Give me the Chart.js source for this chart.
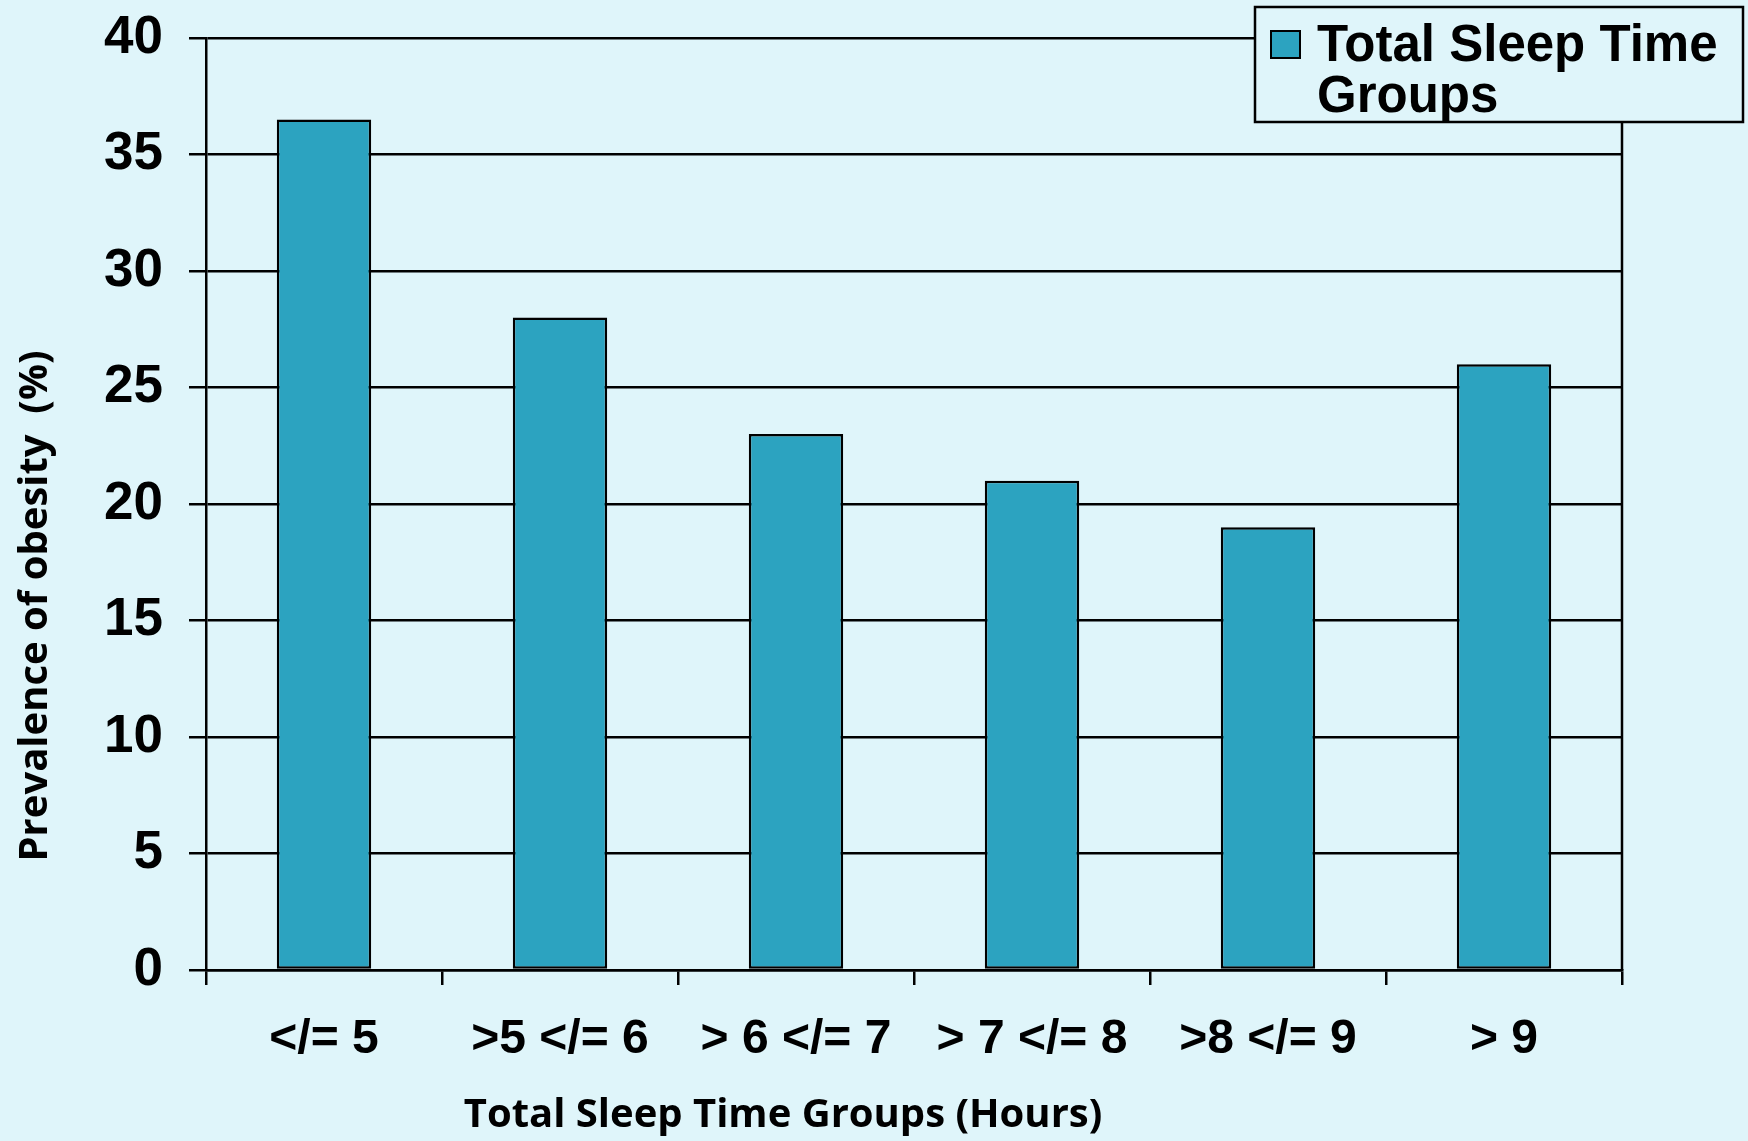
<!DOCTYPE html>
<html>
<head>
<meta charset="utf-8">
<script src="https://cdn.jsdelivr.net/npm/chart.js@4/dist/chart.umd.min.js"></script>
<style>
  html, body { margin: 0; padding: 0; background: #dff5fa; }
  #wrap { width: 1748px; height: 1141px; }
</style>
</head>
<body>
<div id="wrap"><canvas id="sleepChart" width="1748" height="1141"></canvas></div>
<script>
const categories = ['</= 5', '>5 </= 6', '> 6 </= 7', '> 7 </= 8', '>8 </= 9', '> 9'];
const obesityPct = [36.5, 28, 23, 21, 19, 26];
const yTicks = [0, 5, 10, 15, 20, 25, 30, 35, 40];
const seriesLabel = ['Total Sleep Time', 'Groups'];

const BG = '#dff5fa';
const BAR = '#2ca3c0';
const INK = '#000000';

// axis titles, legend box and right frame line
const decorations = {
    id: 'decorations',
    afterDraw(chart) {
        const ctx = chart.ctx;
        const area = chart.chartArea;
        ctx.save();

        // right border of the plot box
        ctx.strokeStyle = INK;
        ctx.lineWidth = 2.5;
        ctx.beginPath();
        ctx.moveTo(area.right, area.top);
        ctx.lineTo(area.right, area.bottom);
        ctx.stroke();

        // axis titles
        ctx.fillStyle = INK;
        ctx.font = 'bold 40px "Open Sans"';
        ctx.textAlign = 'center';
        ctx.textBaseline = 'middle';
        ctx.fillText('Total Sleep Time Groups (Hours)', area.left + 577, 1116);

        ctx.save();
        ctx.translate(36, area.top + 568);
        ctx.rotate(-Math.PI / 2);
        ctx.fillText('Prevalence of obesity  (%)', 0, 0);
        ctx.restore();

        // legend box
        const lx = 1255, ly = 7, lw = 488, lh = 115;
        ctx.fillStyle = BG;
        ctx.fillRect(lx, ly, lw, lh);
        ctx.strokeStyle = INK;
        ctx.lineWidth = 2.5;
        ctx.strokeRect(lx, ly, lw, lh);

        ctx.fillStyle = chart.data.datasets[0].backgroundColor;
        ctx.fillRect(lx + 16, ly + 24, 29, 27);
        ctx.lineWidth = 2;
        ctx.strokeRect(lx + 16, ly + 24, 29, 27);

        ctx.fillStyle = INK;
        ctx.font = 'bold 51px "Liberation Sans"';
        ctx.textAlign = 'left';
        ctx.textBaseline = 'alphabetic';
        ctx.fillText(seriesLabel[0], lx + 62, ly + 54);
        ctx.fillText(seriesLabel[1], lx + 62, ly + 105);
        ctx.restore();
    }
};

Chart.defaults.font.family = '"Liberation Sans", Arial, sans-serif';
Chart.defaults.color = INK;

new Chart(document.getElementById('sleepChart').getContext('2d'), {
    type: 'bar',
    data: {
        labels: categories,
        datasets: [{
            label: seriesLabel.join(' '),
            data: obesityPct,
            backgroundColor: BAR,
            borderColor: INK,
            borderWidth: 2.5,
            borderSkipped: false,
            categoryPercentage: 1.0,
            barPercentage: 0.4
        }]
    },
    options: {
        responsive: false,
        animation: false,
        layout: { padding: { top: 38, right: 126, left: 0, bottom: 0 } },
        scales: {
            x: {
                grid: {
                    offset: true,
                    drawOnChartArea: false,
                    drawTicks: true,
                    tickLength: 15,
                    color: INK,
                    lineWidth: 2.5
                },
                border: { display: true, color: INK, width: 2.5 },
                ticks: {
                    font: { size: 48, weight: 'bold' },
                    color: INK,
                    padding: 26,
                    maxRotation: 0,
                    autoSkip: false
                },
                afterFit(scale) {
                    scale.height = 171;
                    scale.paddingLeft = 0;
                    scale.paddingRight = 0;
                }
            },
            y: {
                min: 0,
                max: 40,
                afterBuildTicks(scale) {
                    scale.ticks = yTicks.map(v => ({ value: v }));
                },
                grid: {
                    color: INK,
                    lineWidth: 2.5,
                    drawTicks: true,
                    tickLength: 17
                },
                border: { display: true, color: INK, width: 2.5 },
                ticks: {
                    font: { size: 53, weight: 'bold' },
                    color: INK,
                    padding: 26
                },
                afterFit(scale) {
                    scale.width = 206;
                    // let the layout padding alone decide the top edge
                    scale.paddingTop = 0;
                    scale.paddingBottom = 0;
                }
            }
        },
        plugins: {
            legend: { display: false },
            tooltip: { enabled: false }
        }
    },
    plugins: [decorations]
});
</script>
</body>
</html>
